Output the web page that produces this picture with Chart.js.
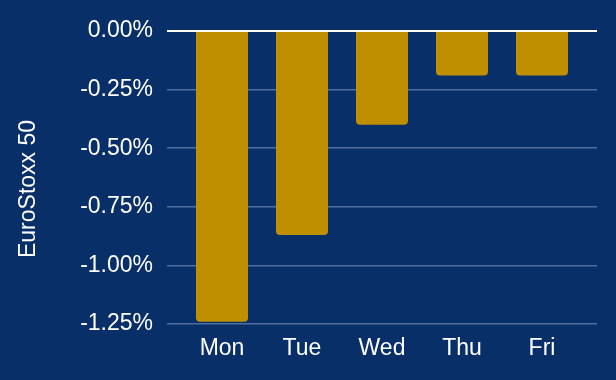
<!DOCTYPE html>
<html>
<head>
<meta charset="utf-8">
<script src="https://cdn.jsdelivr.net/npm/chart.js@4"></script>
<style>
html,body{margin:0;padding:0;background:#092f69;}
#wrap{width:616px;height:380px;}
</style>
</head>
<body>
<div id="wrap"><canvas id="c" width="616" height="380"></canvas></div>
<script>
const days = ["Mon", "Tue", "Wed", "Thu", "Fri"];
const changes = [-1.24, -0.87, -0.40, -0.19, -0.19];
const yTicks = [0, -0.25, -0.5, -0.75, -1.0, -1.25];
const axisTitle = "EuroStoxx 50";

const FONT = "'Liberation Sans', Arial, Helvetica, sans-serif";
const BG = "#092f69";
const BAR = "#bf8f00";
const GRID = "#4f6e9e";

const bgPlugin = {
  id: 'bg',
  beforeDraw(chart) {
    const ctx = chart.ctx;
    ctx.save();
    ctx.fillStyle = BG;
    ctx.fillRect(0, 0, chart.width, chart.height);
    ctx.restore();
  }
};
const titlePlugin = {
  id: 'ytitle',
  afterDraw(chart) {
    const ctx = chart.ctx;
    ctx.save();
    ctx.translate(29, 189);
    ctx.rotate(-Math.PI / 2);
    ctx.fillStyle = '#ffffff';
    ctx.font = "23px " + FONT;
    ctx.textAlign = 'center';
    ctx.textBaseline = 'middle';
    ctx.fillText(axisTitle, 0, 0);
    ctx.restore();
  }
};

new Chart(document.getElementById('c'), {
  type: 'bar',
  data: {
    datasets: [{
      data: days.map((d, i) => ({ x: i, y: changes[i] })),
      backgroundColor: BAR,
      borderRadius: 4,
      borderSkipped: 'start',
      categoryPercentage: 1,
      barPercentage: 0.65
    }]
  },
  options: {
    responsive: false,
    animation: false,
    devicePixelRatio: 1,
    layout: { padding: { left: 0, right: 19, top: 31, bottom: 0 } },
    plugins: { legend: { display: false }, tooltip: { enabled: false } },
    scales: {
      x: {
        type: 'linear',
        offset: false,
        min: -0.6875,
        max: 4.6875,
        grid: { display: false, drawTicks: false, offset: false },
        border: { display: false },
        afterFit(scale) { scale.height = 56; },
        afterBuildTicks(scale) { scale.ticks = days.map((d, i) => ({ value: i })); },
        ticks: {
          autoSkip: false,
          maxRotation: 0,
          padding: 11,
          color: '#ffffff',
          font: { family: FONT, size: 23 },
          callback: (v) => days[v] !== undefined ? days[v] : ''
        }
      },
      y: {
        min: -1.25,
        max: 0,
        afterFit(scale) { scale.width = 167; },
        afterBuildTicks(scale) { scale.ticks = yTicks.map(v => ({ value: v })); },
        grid: {
          drawTicks: false,
          color: (c) => (c.tick && c.tick.value === 0) ? '#ffffff' : GRID,
          lineWidth: (c) => (c.tick && c.tick.value === 0) ? 2 : 1.5
        },
        border: { display: false },
        ticks: {
          padding: 14,
          color: '#ffffff',
          font: { family: FONT, size: 23 },
          callback: (v) => Number(v).toFixed(2) + '%'
        }
      }
    }
  },
  plugins: [bgPlugin, titlePlugin]
});
</script>
</body>
</html>
